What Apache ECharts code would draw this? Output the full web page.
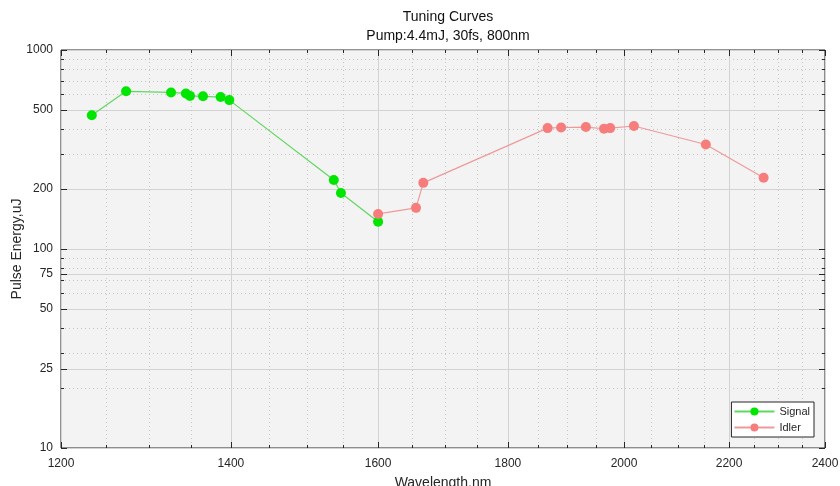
<!DOCTYPE html>
<html>
<head>
<meta charset="utf-8">
<script src="https://cdn.jsdelivr.net/npm/echarts@6/dist/echarts.min.js"></script>
<style>
html,body{margin:0;padding:0;background:#fff;}
#chart{width:840px;height:486px;}
</style>
</head>
<body>
<div id="chart"></div>
<script>
// data
var signalX = [1234, 1273, 1326, 1344, 1349, 1365, 1387, 1398, 1537, 1547, 1600];
var signalY = [470, 620, 612, 605, 588, 585, 580, 560, 222, 191, 137];
var idlerX = [1600, 1656, 1667, 1866, 1889, 1932, 1964, 1975, 2018, 2154, 2270];
var idlerY = [150, 161, 215, 405, 408, 410, 402, 405, 415, 335, 228];

var xTicks = [1200, 1400, 1600, 1800, 2000, 2200, 2400];
var xMinor = [1250, 1300, 1350, 1450, 1500, 1550, 1650, 1700, 1750, 1850, 1900, 1950,
              2050, 2100, 2150, 2250, 2300, 2350];
var yTicks = [10, 25, 50, 75, 100, 200, 500, 1000];
var yMinor = [20, 30, 40, 60, 70, 80, 90, 300, 400, 600, 700, 800, 900];

function pairs(xs, ys) {
    var out = [];
    for (var i = 0; i < xs.length; i++) out.push([xs[i], ys[i]]);
    return out;
}

var txt = '#262626';
var font = 'Liberation Sans, Arial, sans-serif';
function plain(v) { return String(Math.round(v)); }

// axis helper: same log range, different tick set / look
function xAx(pos, vals, major, labels, grid) {
    return {
        type: 'log', logBase: 10, min: 1200, max: 2400, position: pos,
        name: labels ? 'Wavelength,nm' : '', nameLocation: 'middle', nameGap: 28,
        nameMoveOverlap: false,
        nameTextStyle: {color: txt, fontSize: 14, fontFamily: font},
        axisLine: {show: false},
        axisTick: {show: true, inside: true, length: major ? 6 : 3, customValues: vals,
                   lineStyle: {color: txt, width: 1}},
        axisLabel: {show: labels, customValues: vals, color: txt, fontSize: 12,
                    fontFamily: font, margin: 10, formatter: plain},
        splitLine: {show: grid, lineStyle: major ? {color: '#d2d2d2', width: 1}
                                                 : {color: '#c6c6c6', width: 1, type: [1, 3]}},
        minorTick: {show: false}, minorSplitLine: {show: false}
    };
}
function yAx(pos, vals, major, labels, grid) {
    return {
        type: 'log', logBase: 10, min: 10, max: 1000, position: pos,
        name: labels ? 'Pulse Energy,uJ' : '', nameLocation: 'middle', nameGap: 37,
        nameMoveOverlap: false,
        nameTextStyle: {color: txt, fontSize: 14, fontFamily: font},
        axisLine: {show: false},
        axisTick: {show: true, inside: true, length: major ? 6 : 3, customValues: vals,
                   lineStyle: {color: txt, width: 1}},
        axisLabel: {show: labels, customValues: vals, color: txt, fontSize: 12,
                    fontFamily: font, margin: 8, formatter: plain},
        splitLine: {show: grid, lineStyle: major ? {color: '#d2d2d2', width: 1}
                                                 : {color: '#c6c6c6', width: 1, type: [1, 3]}},
        minorTick: {show: false}, minorSplitLine: {show: false}
    };
}

var myChart = echarts.init(document.getElementById('chart'));
myChart.setOption({
    animation: false,
    backgroundColor: '#fff',
    title: {
        text: 'Tuning Curves',
        subtext: 'Pump:4.4mJ, 30fs, 800nm',
        left: 443, top: 5, textAlign: 'center', itemGap: 5,
        textStyle: {color: '#111', fontSize: 14, fontWeight: 'normal', fontFamily: font},
        subtextStyle: {color: '#111', fontSize: 14, fontFamily: font}
    },
    grid: {
        left: 61, right: 15, top: 50, bottom: 38,
        containLabel: false, outerBoundsMode: 'none',
        show: true, backgroundColor: '#f3f3f3',
        borderColor: '#262626', borderWidth: 1
    },
    legend: {
        right: 26, bottom: 49,
        orient: 'vertical',
        backgroundColor: '#fff', borderColor: '#262626', borderWidth: 1,
        padding: [4, 4, 4, 2], itemGap: 5,
        itemWidth: 40, itemHeight: 10,
        textStyle: {color: txt, fontSize: 11, fontFamily: font},
        data: ['Signal', 'Idler']
    },
    xAxis: [
        xAx('bottom', xTicks, true, true, true),
        xAx('bottom', xMinor, false, false, true),
        xAx('top', xTicks, true, false, false),
        xAx('top', xMinor, false, false, false)
    ],
    yAxis: [
        yAx('left', yTicks, true, true, true),
        yAx('left', yMinor, false, false, true),
        yAx('right', yTicks, true, false, false),
        yAx('right', yMinor, false, false, false)
    ],
    series: [
        {
            name: 'Signal', type: 'line',
            xAxisIndex: 0, yAxisIndex: 0,
            symbol: 'circle', symbolSize: 10,
            itemStyle: {color: '#00e600'},
            lineStyle: {color: '#5fd85f', width: 1.2},
            data: pairs(signalX, signalY)
        },
        {
            name: 'Idler', type: 'line',
            xAxisIndex: 0, yAxisIndex: 0,
            symbol: 'circle', symbolSize: 10,
            itemStyle: {color: '#f77c7c'},
            lineStyle: {color: '#ef9a9a', width: 1.2},
            data: pairs(idlerX, idlerY)
        }
    ]
});
</script>
</body>
</html>
